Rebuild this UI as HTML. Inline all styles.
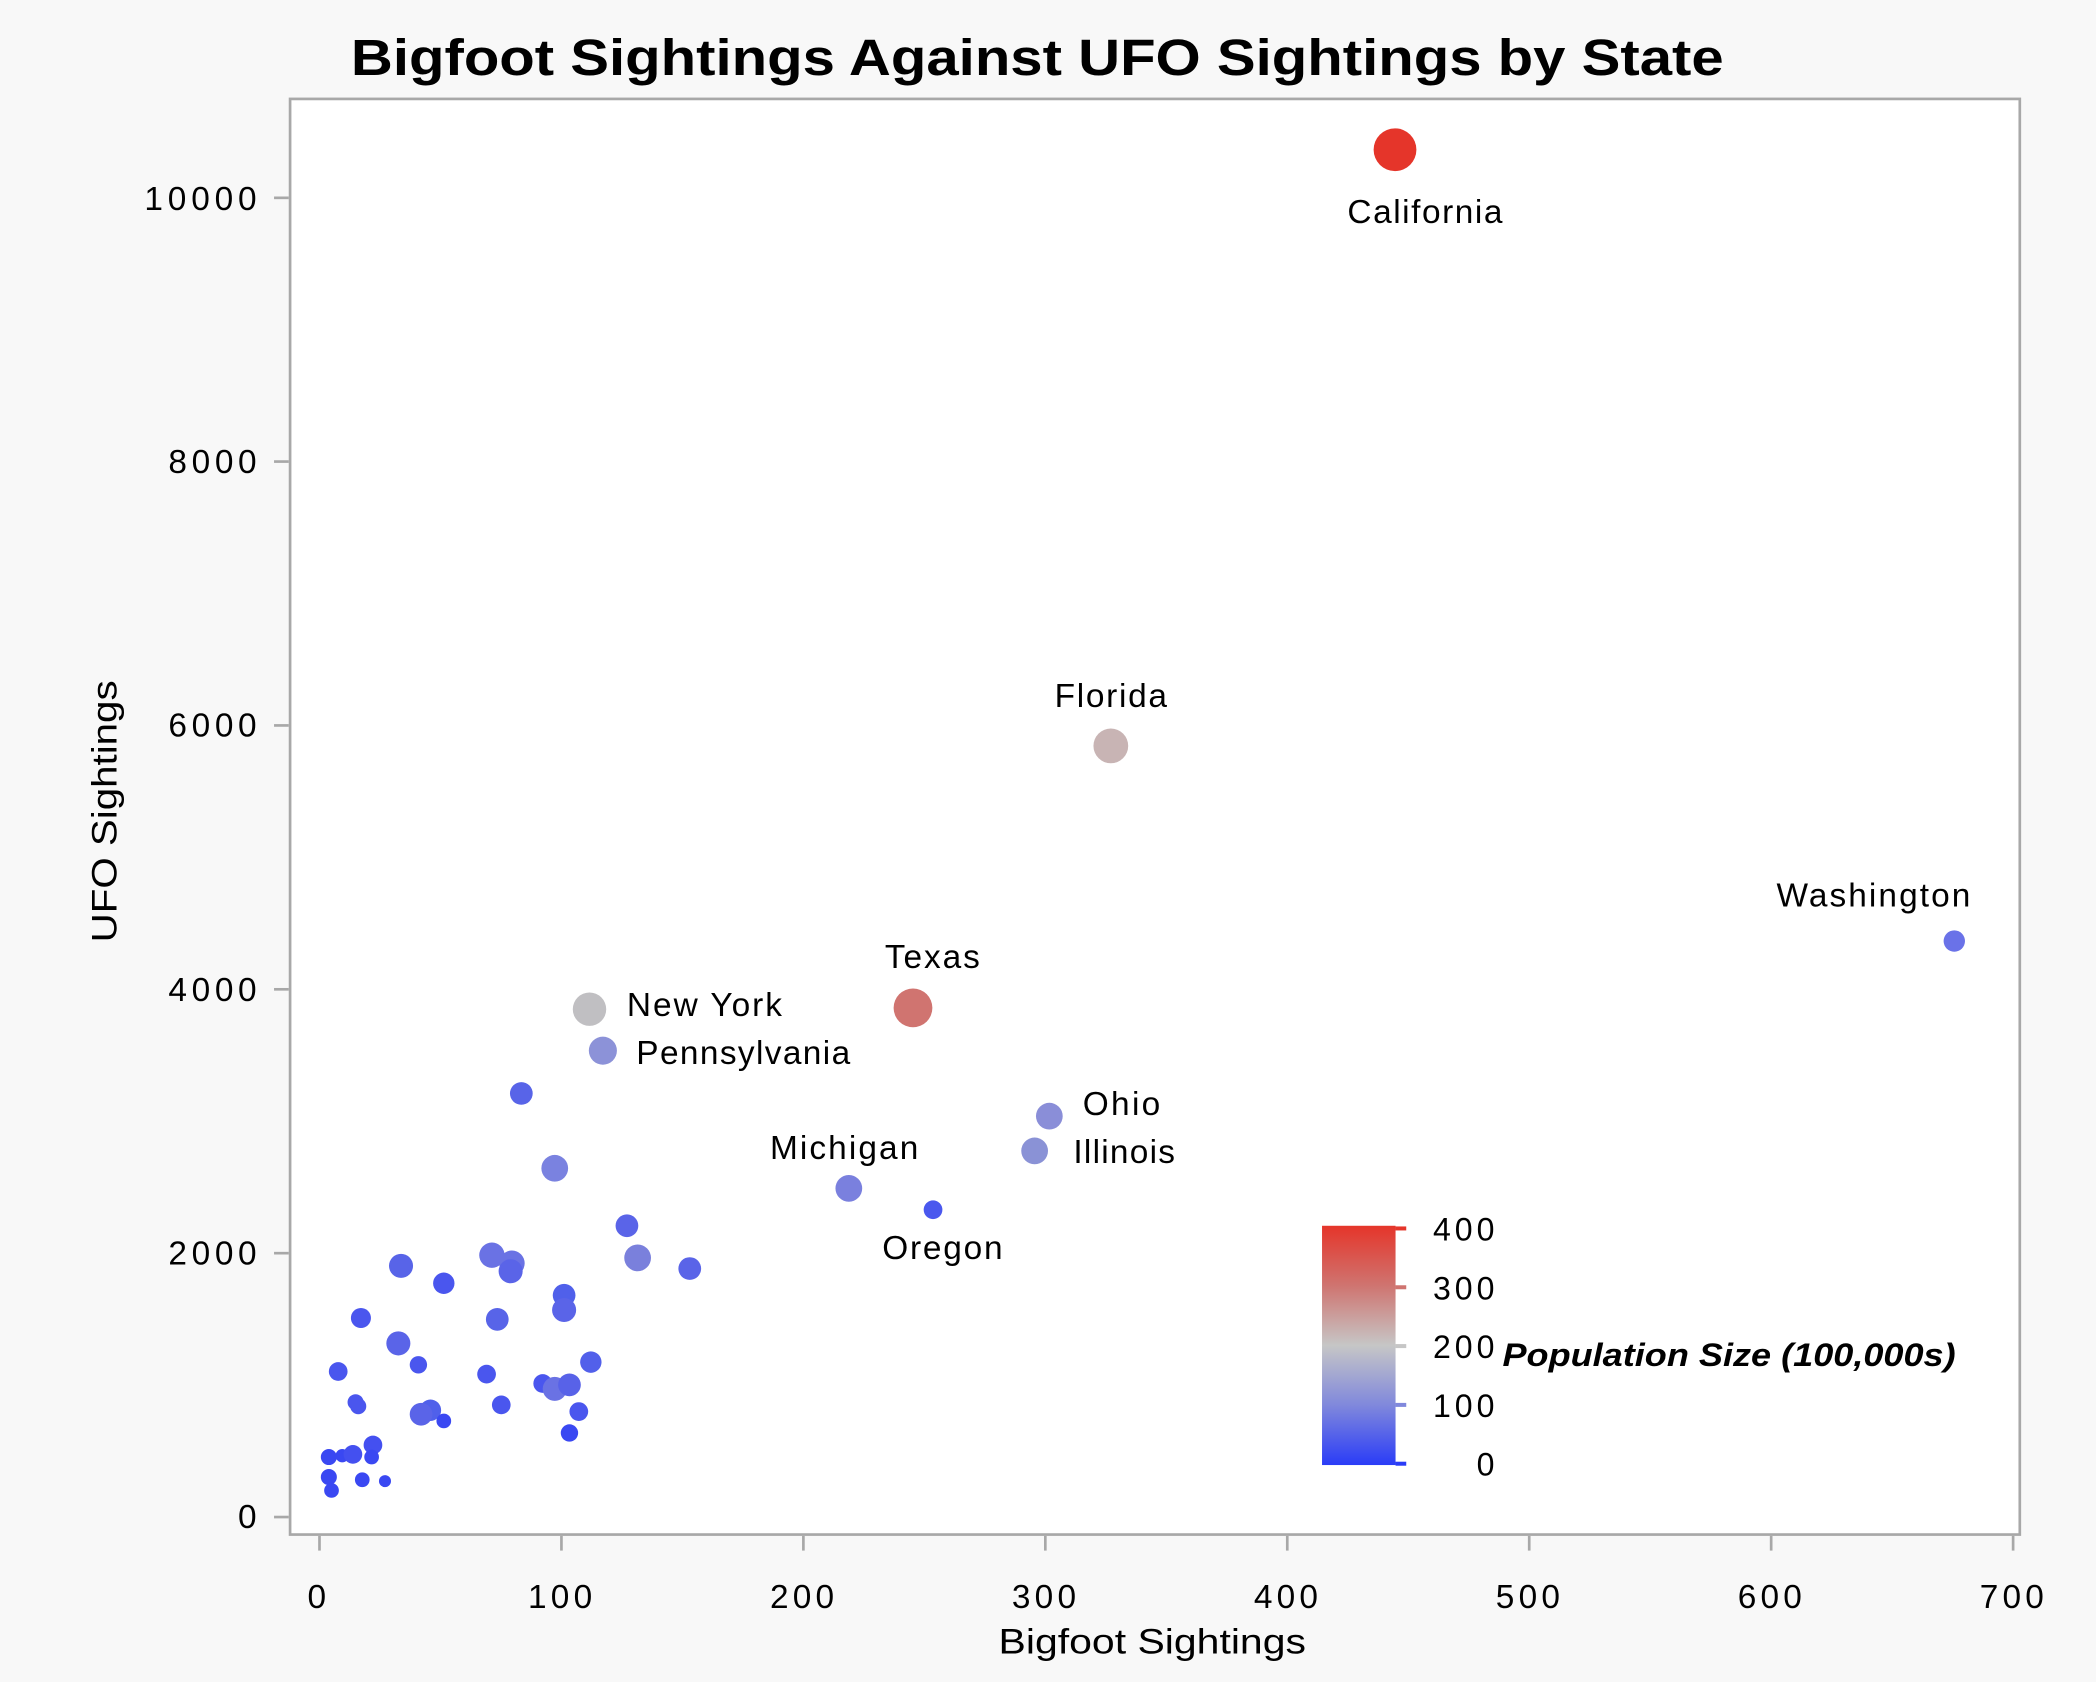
<!DOCTYPE html>
<html><head><meta charset="utf-8"><style>
html,body{margin:0;padding:0;background:#f8f8f8;}
svg{display:block;}
text{font-family:"Liberation Sans",Arial,sans-serif;fill:#000;}
</style></head><body>
<svg width="2096" height="1682" viewBox="0 0 1568 1258.3" xmlns="http://www.w3.org/2000/svg">
<defs>
<linearGradient id="g" x1="0" y1="1" x2="0" y2="0">
<stop offset="0" stop-color="#2a3cf7"/>
<stop offset="0.25" stop-color="#8088dc"/>
<stop offset="0.5" stop-color="#c6c6c6"/>
<stop offset="0.75" stop-color="#cf7470"/>
<stop offset="1" stop-color="#e5352a"/>
</linearGradient>
</defs>
<rect x="0" y="0" width="1568" height="1258.3" fill="#f8f8f8"/>
<rect x="217" y="74" width="1294" height="1074" fill="#fff" stroke="#a8a8a8" stroke-width="2"/>
<text x="776" y="56" font-size="38" font-weight="bold" text-anchor="middle" textLength="1027" lengthAdjust="spacingAndGlyphs">Bigfoot Sightings Against UFO Sightings by State</text>
<g stroke="#a8a8a8" stroke-width="2">
<line x1="239" y1="1149" x2="239" y2="1160"/><line x1="420" y1="1149" x2="420" y2="1160"/><line x1="601" y1="1149" x2="601" y2="1160"/><line x1="782" y1="1149" x2="782" y2="1160"/><line x1="963" y1="1149" x2="963" y2="1160"/><line x1="1144" y1="1149" x2="1144" y2="1160"/><line x1="1325" y1="1149" x2="1325" y2="1160"/><line x1="1506" y1="1149" x2="1506" y2="1160"/>
<line x1="205" y1="1134.9" x2="216" y2="1134.9"/><line x1="205" y1="937.5" x2="216" y2="937.5"/><line x1="205" y1="740.1" x2="216" y2="740.1"/><line x1="205" y1="542.7" x2="216" y2="542.7"/><line x1="205" y1="345.3" x2="216" y2="345.3"/><line x1="205" y1="148" x2="216" y2="148"/>
</g>
<g font-size="25" text-anchor="middle" lengthAdjust="spacingAndGlyphs">
<text x="237" y="1203" textLength="16">0</text><text x="419" y="1203" textLength="48">100</text><text x="600" y="1203" textLength="48">200</text><text x="781" y="1203" textLength="48">300</text><text x="962" y="1203" textLength="48">400</text><text x="1143" y="1203" textLength="48">500</text><text x="1324" y="1203" textLength="48">600</text><text x="1505" y="1203" textLength="48">700</text>
</g>
<g font-size="25" text-anchor="end" lengthAdjust="spacingAndGlyphs">
<text x="192" y="1143" textLength="16">0</text><text x="192" y="946" textLength="66">2000</text><text x="192" y="749" textLength="66">4000</text><text x="192" y="551" textLength="66">6000</text><text x="192" y="354" textLength="66">8000</text><text x="192" y="157" textLength="84">10000</text>
</g>
<text x="862" y="1237" font-size="26" text-anchor="middle" textLength="230" lengthAdjust="spacingAndGlyphs">Bigfoot Sightings</text>
<text transform="translate(87,607) rotate(-90)" font-size="26" text-anchor="middle" textLength="196" lengthAdjust="spacingAndGlyphs">UFO Sightings</text>
<g>
<circle cx="1043.6" cy="112" r="16" fill="#e5352a"/>
<circle cx="831" cy="558" r="13" fill="#c8b4b4"/>
<circle cx="1462" cy="704" r="8" fill="#6a72e8"/>
<circle cx="683" cy="754" r="14.5" fill="#d07470"/>
<circle cx="441" cy="755" r="12.5" fill="#c0bfc2"/>
<circle cx="451" cy="786" r="10.5" fill="#8c92d8"/>
<circle cx="785" cy="835" r="10" fill="#8a8ed8"/>
<circle cx="774" cy="861" r="10" fill="#8a92d6"/>
<circle cx="635" cy="889" r="10" fill="#7a80de"/>
<circle cx="698" cy="905" r="7" fill="#4a58ee"/>
<g fill="#4a56ee">
<circle cx="390" cy="818" r="8.5" fill="#5864e8"/>
<circle cx="415" cy="874" r="10" fill="#7a82e0"/>
<circle cx="469" cy="917" r="8.5" fill="#5a64e8"/>
<circle cx="477" cy="941" r="10" fill="#7a80dc"/>
<circle cx="516" cy="949" r="8.5" fill="#5a64e8"/>
<circle cx="368" cy="939" r="9.5" fill="#6a72e4"/>
<circle cx="383" cy="945" r="9.5" fill="#6a72e4"/>
<circle cx="382" cy="951" r="9" fill="#5a64e8"/>
<circle cx="300" cy="947" r="9" fill="#5864e8"/>
<circle cx="332" cy="960" r="8"/>
<circle cx="422" cy="969" r="8.5" fill="#5060ea"/>
<circle cx="422" cy="980" r="9" fill="#5a64e8"/>
<circle cx="372" cy="987" r="8.5" fill="#5864e8"/>
<circle cx="270" cy="986" r="7.5"/>
<circle cx="298" cy="1005" r="9" fill="#5a64e8"/>
<circle cx="313" cy="1021" r="6.5"/>
<circle cx="442" cy="1019" r="8" fill="#5260ea"/>
<circle cx="253" cy="1026" r="7"/>
<circle cx="364" cy="1028" r="7"/>
<circle cx="406" cy="1035" r="7"/>
<circle cx="415" cy="1039" r="9" fill="#6a72e4"/>
<circle cx="426" cy="1036" r="8.5" fill="#5862e8"/>
<circle cx="375" cy="1051" r="7"/>
<circle cx="433" cy="1056" r="7"/>
<circle cx="266" cy="1049" r="6"/>
<circle cx="268" cy="1052" r="6"/>
<circle cx="322" cy="1055" r="8" fill="#5060ea"/>
<circle cx="315" cy="1058" r="8.5" fill="#5a64e8"/>
<circle cx="332" cy="1063" r="5.5" fill="#3a48f2"/>
<circle cx="426" cy="1072" r="6.5" fill="#3a48f2"/>
<circle cx="279" cy="1081" r="7" fill="#4450f0"/>
<circle cx="246" cy="1090" r="6" fill="#3a48f2"/>
<circle cx="256" cy="1089" r="5" fill="#3a48f2"/>
<circle cx="264" cy="1088" r="7" fill="#4450f0"/>
<circle cx="278" cy="1090" r="5.5" fill="#3a48f2"/>
<circle cx="246" cy="1105" r="6" fill="#3a48f2"/>
<circle cx="271" cy="1107" r="5.5" fill="#3a48f2"/>
<circle cx="288" cy="1108" r="4.5" fill="#3a48f2"/>
<circle cx="248" cy="1115" r="5.5" fill="#3a48f2"/>
</g>
</g>
<g font-size="25" lengthAdjust="spacingAndGlyphs">
<text x="1008" y="167" textLength="116">California</text>
<text x="789" y="529" textLength="84">Florida</text>
<text x="1329" y="678" textLength="145">Washington</text>
<text x="662" y="724" textLength="71">Texas</text>
<text x="469" y="760" textLength="116">New York</text>
<text x="476" y="796" textLength="160">Pennsylvania</text>
<text x="810" y="834" textLength="58">Ohio</text>
<text x="803" y="870" textLength="76">Illinois</text>
<text x="576" y="867" textLength="111">Michigan</text>
<text x="660" y="942" textLength="90">Oregon</text>
</g>
<rect x="989" y="917" width="55" height="179" fill="url(#g)"/>
<g stroke-width="3">
<line x1="1044" y1="919" x2="1052" y2="919" stroke="#e5352a"/>
<line x1="1044" y1="963" x2="1052" y2="963" stroke="#cf7470"/>
<line x1="1044" y1="1007" x2="1052" y2="1007" stroke="#c6c6c6"/>
<line x1="1044" y1="1051" x2="1052" y2="1051" stroke="#8088dc"/>
<line x1="1044" y1="1095" x2="1052" y2="1095" stroke="#2a3cf7"/>
</g>
<g font-size="24" text-anchor="end" lengthAdjust="spacingAndGlyphs">
<text x="1118" y="928" textLength="46">400</text><text x="1118" y="972" textLength="46">300</text><text x="1118" y="1016" textLength="46">200</text><text x="1118" y="1060" textLength="46">100</text><text x="1118" y="1104" textLength="15">0</text>
</g>
<text x="1124" y="1022" font-size="24" font-weight="bold" font-style="italic" textLength="339" lengthAdjust="spacingAndGlyphs">Population Size (100,000s)</text>
</svg>
</body></html>
